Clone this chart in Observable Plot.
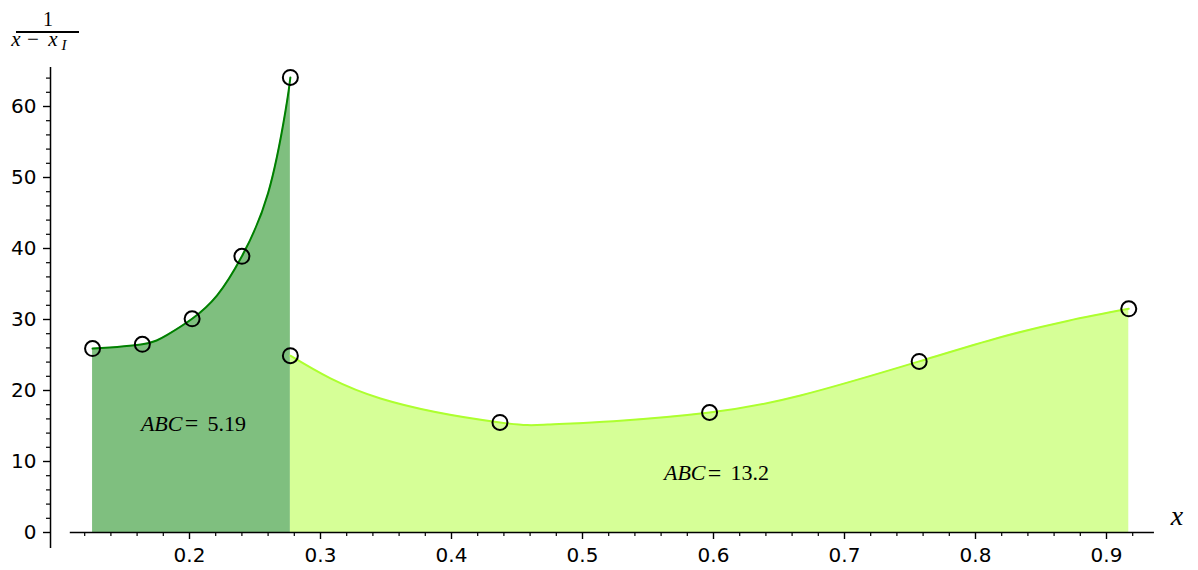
<!DOCTYPE html>
<html><head><meta charset="utf-8">
<script src="https://cdn.jsdelivr.net/npm/d3@7"></script>
<script src="https://cdn.jsdelivr.net/npm/@observablehq/plot@0.6"></script>
<style>body{margin:0;background:#fff} svg{display:block}</style>
</head><body><div id="chart"></div>
<script>
// Sample points (circles)
const xLeft = [0.126, 0.164, 0.202, 0.240, 0.277];
const yLeft = [25.9, 26.5, 30.1, 38.9, 64.1];
const xRight = [0.277, 0.437, 0.597, 0.757, 0.917];
const yRight = [24.9, 15.5, 16.9, 24.1, 31.5];
// Curves
const curveLeftX = [0.126, 0.164, 0.183, 0.202, 0.2211, 0.240, 0.260, 0.2733, 0.277];
const curveLeftY = [25.9, 26.5, 27.83, 30.1, 33.4, 38.9, 47.8, 59.4, 64.1];
const curveRightX = [0.277, 0.3458, 0.437, 0.4733, 0.5237, 0.597, 0.6664, 0.757, 0.8191, 0.8702, 0.917];
const curveRightY = [24.9, 18.87, 15.5, 15.21, 15.68, 16.9, 19.3, 24.1, 27.5, 29.8, 31.5];
// Area annotations
const labelX = [0.2015, 0.6008];
const labelY = [15.35, 8.38];
const labelVal = ["5.19", "13.2"];
// Ticks
const xMajor = [0.2, 0.3, 0.4, 0.5, 0.6, 0.7, 0.8, 0.9];
const xMinor = d3.range(6, 47).map(i => i * 0.02).filter(v => Math.abs(v * 10 - Math.round(v * 10)) > 1e-6);
const yMajor = [0, 10, 20, 30, 40, 50, 60];
const yMinor = d3.range(0, 33).map(i => i * 2).filter(v => v % 10 !== 0);
// Axis extents
const yAxisAt = 0.0939;
const yAxisExtent = [-2.25, 65.5];
const xAxisExtent = [0.109, 0.9366];

const pts = [...xLeft.map((x, i) => ({x, y: yLeft[i]})), ...xRight.map((x, i) => ({x, y: yRight[i]}))];
const cLeft = curveLeftX.map((x, i) => ({x, y: curveLeftY[i]}));
const cRight = curveRightX.map((x, i) => ({x, y: curveRightY[i]}));
const labels = labelX.map((x, i) => ({x, y: labelY[i], v: labelVal[i]}));

const serif = "Liberation Serif";
const crv = "natural";
const chart = Plot.plot({
  width: 1198, height: 570,
  marginLeft: 50, marginRight: 0, marginTop: 0, marginBottom: 38,
  style: {fontFamily: "DejaVu Sans", fontSize: "20px", background: "white", overflow: "visible"},
  x: {domain: [0.2, 0.9], range: [189, 1106]},
  y: {domain: [0, 60], range: [532, 106]},
  marks: [
    Plot.areaY(cLeft, {x: "x", y: "y", curve: crv, fill: "green", fillOpacity: 0.5}),
    Plot.areaY(cRight, {x: "x", y: "y", curve: crv, fill: "greenyellow", fillOpacity: 0.5}),
    Plot.line(cLeft, {x: "x", y: "y", curve: crv, stroke: "green", strokeWidth: 2}),
    Plot.line(cRight, {x: "x", y: "y", curve: crv, stroke: "greenyellow", strokeWidth: 2}),
    Plot.dot(pts, {x: "x", y: "y", r: 7.5, stroke: "black", strokeWidth: 2, fill: "none"}),
    Plot.ruleX([yAxisAt], {y1: yAxisExtent[0], y2: yAxisExtent[1], stroke: "black", strokeWidth: 1.5}),
    Plot.ruleY([0], {x1: xAxisExtent[0], x2: xAxisExtent[1], stroke: "black", strokeWidth: 1.5}),
    Plot.axisY({ticks: yMajor, tickSize: 7, tickPadding: 7, strokeWidth: 1.4, tickFormat: d => String(d), label: null}),
    Plot.axisY({ticks: yMinor, tickSize: 4, strokeWidth: 1.2, tickFormat: () => "", label: null}),
    Plot.axisX({ticks: xMajor, tickSize: 7, tickPadding: 8, strokeWidth: 1.4, tickFormat: d3.format(".1f"), label: null}),
    Plot.axisX({ticks: xMinor, tickSize: 4, strokeWidth: 1.2, tickFormat: () => "", label: null}),
    Plot.text(labels, {x: "x", y: "y", text: () => "ABC", textAnchor: "end", dx: -9, fontFamily: serif, fontStyle: "italic", fontSize: 22, fill: "black"}),
    Plot.text(labels, {x: "x", y: "y", text: () => "=", textAnchor: "middle", fontFamily: serif, fontSize: 24, fill: "black"}),
    Plot.text(labels, {x: "x", y: "y", text: "v", textAnchor: "start", dx: 16, fontFamily: serif, fontSize: 22, fill: "black"})
  ]
});
document.getElementById("chart").append(chart);

// Axis labels (math-style)
const svg = d3.select(chart);
const g = svg.append("g").attr("font-family", serif).attr("fill", "black");
g.append("text").attr("x", 48).attr("y", 26).attr("text-anchor", "middle").attr("font-size", 20).text("1");
g.append("line").attr("x1", 16).attr("x2", 79).attr("y1", 32).attr("y2", 32).attr("stroke", "black").attr("stroke-width", 1.8);
const den = g.append("text").attr("y", 46).attr("font-size", 21);
den.append("tspan").attr("x", 16).attr("font-style", "italic").text("x");
den.append("tspan").attr("x", 33).text("\u2212");
den.append("tspan").attr("x", 53).attr("font-style", "italic").text("x");
den.append("tspan").attr("x", 64).attr("dy", 4).attr("font-size", 15).attr("font-style", "italic").text("I");
g.append("text").attr("x", 1177).attr("y", 525).attr("text-anchor", "middle").attr("font-size", 28).attr("font-style", "italic").text("x");
</script>
</body></html>
